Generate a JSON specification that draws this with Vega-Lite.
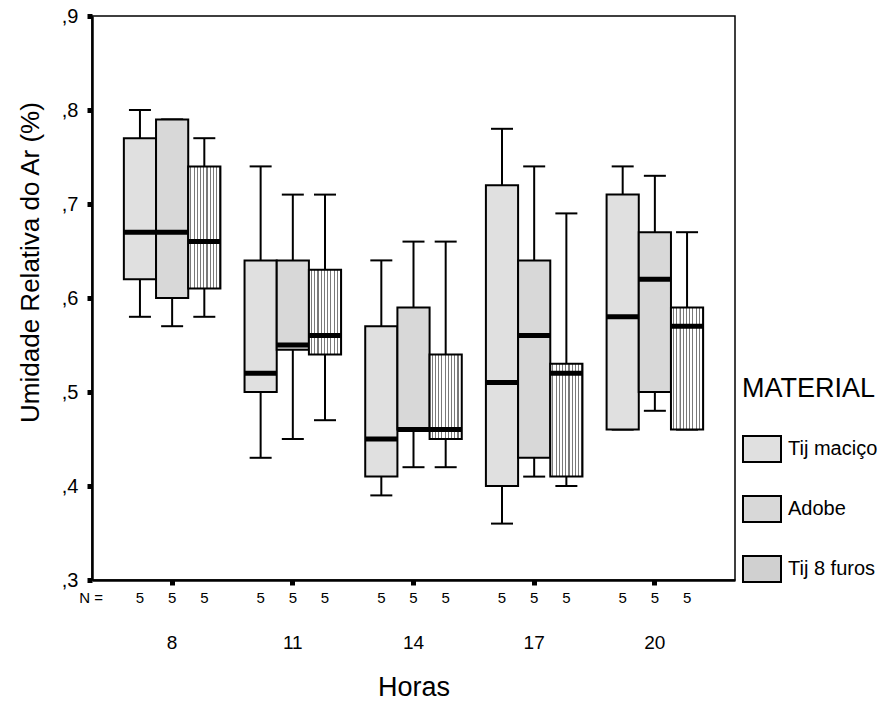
{
  "$schema": "https://vega.github.io/schema/vega-lite/v6.json",
  "width": 643,
  "height": 564,
  "autosize": "none",
  "padding": {"left": 92, "top": 16, "right": 159, "bottom": 136},
  "background": "white",
  "config": {
    "font": "Liberation Sans, Arial, sans-serif",
    "view": {"stroke": "black", "strokeWidth": 1.5},
    "axis": {"grid": false, "domainColor": "black", "domainWidth": 2.5, "tickColor": "black", "labelColor": "black", "titleColor": "black", "titleFontWeight": "normal", "labelFont": "Liberation Sans", "titleFont": "Liberation Sans"},
    "legend": {"labelFont": "Liberation Sans", "titleFont": "Liberation Sans"}
  },
  "data": {
    "values": [
      {"Hora": "8", "MATERIAL": "Tij maciço", "min": 0.58, "q1": 0.62, "med": 0.67, "q3": 0.77, "max": 0.80, "N": 5},
      {"Hora": "8", "MATERIAL": "Adobe", "min": 0.57, "q1": 0.60, "med": 0.67, "q3": 0.79, "max": 0.79, "N": 5},
      {"Hora": "8", "MATERIAL": "Tij 8 furos", "min": 0.58, "q1": 0.61, "med": 0.66, "q3": 0.74, "max": 0.77, "N": 5},
      {"Hora": "11", "MATERIAL": "Tij maciço", "min": 0.43, "q1": 0.50, "med": 0.52, "q3": 0.64, "max": 0.74, "N": 5},
      {"Hora": "11", "MATERIAL": "Adobe", "min": 0.45, "q1": 0.545, "med": 0.55, "q3": 0.64, "max": 0.71, "N": 5},
      {"Hora": "11", "MATERIAL": "Tij 8 furos", "min": 0.47, "q1": 0.54, "med": 0.56, "q3": 0.63, "max": 0.71, "N": 5},
      {"Hora": "14", "MATERIAL": "Tij maciço", "min": 0.39, "q1": 0.41, "med": 0.45, "q3": 0.57, "max": 0.64, "N": 5},
      {"Hora": "14", "MATERIAL": "Adobe", "min": 0.42, "q1": 0.46, "med": 0.46, "q3": 0.59, "max": 0.66, "N": 5},
      {"Hora": "14", "MATERIAL": "Tij 8 furos", "min": 0.42, "q1": 0.45, "med": 0.46, "q3": 0.54, "max": 0.66, "N": 5},
      {"Hora": "17", "MATERIAL": "Tij maciço", "min": 0.36, "q1": 0.40, "med": 0.51, "q3": 0.72, "max": 0.78, "N": 5},
      {"Hora": "17", "MATERIAL": "Adobe", "min": 0.41, "q1": 0.43, "med": 0.56, "q3": 0.64, "max": 0.74, "N": 5},
      {"Hora": "17", "MATERIAL": "Tij 8 furos", "min": 0.40, "q1": 0.41, "med": 0.52, "q3": 0.53, "max": 0.69, "N": 5},
      {"Hora": "20", "MATERIAL": "Tij maciço", "min": 0.46, "q1": 0.46, "med": 0.58, "q3": 0.71, "max": 0.74, "N": 5},
      {"Hora": "20", "MATERIAL": "Adobe", "min": 0.48, "q1": 0.50, "med": 0.62, "q3": 0.67, "max": 0.73, "N": 5},
      {"Hora": "20", "MATERIAL": "Tij 8 furos", "min": 0.46, "q1": 0.46, "med": 0.57, "q3": 0.59, "max": 0.67, "N": 5}
    ]
  },
  "layer": [
    {
      "encoding": {
        "x": {
          "field": "Hora", "type": "nominal", "sort": ["8", "11", "14", "17", "20"],
          "scale": {"paddingInner": 0.2, "paddingOuter": 0.264},
          "axis": {"title": "Horas", "labelAngle": 0, "labelFontSize": 19, "labelPadding": 48, "tickSize": 5, "tickWidth": 5, "titleFontSize": 27, "titlePadding": 22}
        },
        "xOffset": {
          "field": "MATERIAL", "type": "nominal",
          "sort": ["Tij maciço", "Adobe", "Tij 8 furos"],
          "scale": {"paddingInner": 0, "paddingOuter": 0}
        }
      },
      "layer": [
        {
          "mark": {"type": "rule", "color": "black", "strokeWidth": 2, "opacity": 1},
          "encoding": {
            "y": {"field": "min", "type": "quantitative", "title": "Umidade Relativa do Ar (%)"},
            "y2": {"field": "max"}
          }
        },
        {
          "mark": {"type": "tick", "color": "black", "size": 22, "thickness": 2, "opacity": 1},
          "encoding": {"y": {"field": "min", "type": "quantitative", "title": "Umidade Relativa do Ar (%)"}}
        },
        {
          "mark": {"type": "tick", "color": "black", "size": 22, "thickness": 2, "opacity": 1},
          "encoding": {"y": {"field": "max", "type": "quantitative", "title": "Umidade Relativa do Ar (%)"}}
        },
        {
          "mark": {"type": "bar", "stroke": "black", "strokeWidth": 2, "width": {"band": 1}, "opacity": 1},
          "encoding": {
            "y": {
              "field": "q1", "type": "quantitative", "title": "Umidade Relativa do Ar (%)",
              "scale": {"domain": [0.3, 0.9], "nice": false, "zero": false},
              "axis": {"values": [0.3, 0.4, 0.5, 0.6, 0.7, 0.8, 0.9], "labelExpr": "replace(format(datum.value, '.1f'), '0.', ',')", "labelFontSize": 20, "labelPadding": 9, "tickSize": 5, "tickWidth": 5, "titleFontSize": 26, "titlePadding": 18, "titleY": 246}
            },
            "y2": {"field": "q3"},
            "fill": {
              "condition": {"test": "(datum.MATERIAL || datum.value) === 'Tij 8 furos'", "value": {"gradient": "linear", "x1": 0, "y1": 0, "x2": 1, "y2": 0, "stops": [
                    {"offset": 0.0, "color": "#ffffff"}, {"offset": 0.065, "color": "#ffffff"}, {"offset": 0.066, "color": "#7a7a7a"}, {"offset": 0.099, "color": "#7a7a7a"},
                    {"offset": 0.1, "color": "#ffffff"}, {"offset": 0.165, "color": "#ffffff"}, {"offset": 0.166, "color": "#7a7a7a"}, {"offset": 0.199, "color": "#7a7a7a"},
                    {"offset": 0.2, "color": "#ffffff"}, {"offset": 0.265, "color": "#ffffff"}, {"offset": 0.266, "color": "#7a7a7a"}, {"offset": 0.299, "color": "#7a7a7a"},
                    {"offset": 0.3, "color": "#ffffff"}, {"offset": 0.365, "color": "#ffffff"}, {"offset": 0.366, "color": "#7a7a7a"}, {"offset": 0.399, "color": "#7a7a7a"},
                    {"offset": 0.4, "color": "#ffffff"}, {"offset": 0.465, "color": "#ffffff"}, {"offset": 0.466, "color": "#7a7a7a"}, {"offset": 0.499, "color": "#7a7a7a"},
                    {"offset": 0.5, "color": "#ffffff"}, {"offset": 0.565, "color": "#ffffff"}, {"offset": 0.566, "color": "#7a7a7a"}, {"offset": 0.599, "color": "#7a7a7a"},
                    {"offset": 0.6, "color": "#ffffff"}, {"offset": 0.665, "color": "#ffffff"}, {"offset": 0.666, "color": "#7a7a7a"}, {"offset": 0.699, "color": "#7a7a7a"},
                    {"offset": 0.7, "color": "#ffffff"}, {"offset": 0.765, "color": "#ffffff"}, {"offset": 0.766, "color": "#7a7a7a"}, {"offset": 0.799, "color": "#7a7a7a"},
                    {"offset": 0.8, "color": "#ffffff"}, {"offset": 0.865, "color": "#ffffff"}, {"offset": 0.866, "color": "#7a7a7a"}, {"offset": 0.899, "color": "#7a7a7a"},
                    {"offset": 0.9, "color": "#ffffff"}, {"offset": 0.965, "color": "#ffffff"}, {"offset": 0.966, "color": "#7a7a7a"}, {"offset": 0.999, "color": "#7a7a7a"}
                  ]}},
              "field": "MATERIAL", "type": "nominal",
              "sort": ["Tij maciço", "Adobe", "Tij 8 furos"],
              "scale": {
                "domain": ["Tij maciço", "Adobe", "Tij 8 furos"],
                "range": ["#e0e0e0", "#d8d8d8", "#d0d0d0"]
              },
              "legend": {
                "title": "MATERIAL", "orient": "none", "legendX": 650, "legendY": 360,
                "titleFontSize": 27, "titleFontWeight": "normal", "titleColor": "black", "titlePadding": 26,
                "labelFontSize": 20, "labelColor": "black", "labelOffset": 6,
                "symbolType": "M-1,-0.684H1V0.684H-1Z", "symbolSize": 1444,
                "symbolStrokeColor": "black", "symbolStrokeWidth": 2, "rowPadding": 23,
                "encode": {"symbols": {"update": {
                  "stroke": {"value": "black"}, "strokeWidth": {"value": 2},
                  "fill": {
                    "condition": {"test": "datum.value === 'Tij 8 furos'", "value": {"gradient": "linear", "x1": 0, "y1": 0, "x2": 1, "y2": 0, "stops": [
                      {"offset": 0.0, "color": "#ffffff"}, {"offset": 0.065, "color": "#ffffff"}, {"offset": 0.066, "color": "#7a7a7a"}, {"offset": 0.099, "color": "#7a7a7a"},
                      {"offset": 0.1, "color": "#ffffff"}, {"offset": 0.165, "color": "#ffffff"}, {"offset": 0.166, "color": "#7a7a7a"}, {"offset": 0.199, "color": "#7a7a7a"},
                      {"offset": 0.2, "color": "#ffffff"}, {"offset": 0.265, "color": "#ffffff"}, {"offset": 0.266, "color": "#7a7a7a"}, {"offset": 0.299, "color": "#7a7a7a"},
                      {"offset": 0.3, "color": "#ffffff"}, {"offset": 0.365, "color": "#ffffff"}, {"offset": 0.366, "color": "#7a7a7a"}, {"offset": 0.399, "color": "#7a7a7a"},
                      {"offset": 0.4, "color": "#ffffff"}, {"offset": 0.465, "color": "#ffffff"}, {"offset": 0.466, "color": "#7a7a7a"}, {"offset": 0.499, "color": "#7a7a7a"},
                      {"offset": 0.5, "color": "#ffffff"}, {"offset": 0.565, "color": "#ffffff"}, {"offset": 0.566, "color": "#7a7a7a"}, {"offset": 0.599, "color": "#7a7a7a"},
                      {"offset": 0.6, "color": "#ffffff"}, {"offset": 0.665, "color": "#ffffff"}, {"offset": 0.666, "color": "#7a7a7a"}, {"offset": 0.699, "color": "#7a7a7a"},
                      {"offset": 0.7, "color": "#ffffff"}, {"offset": 0.765, "color": "#ffffff"}, {"offset": 0.766, "color": "#7a7a7a"}, {"offset": 0.799, "color": "#7a7a7a"},
                      {"offset": 0.8, "color": "#ffffff"}, {"offset": 0.865, "color": "#ffffff"}, {"offset": 0.866, "color": "#7a7a7a"}, {"offset": 0.899, "color": "#7a7a7a"},
                      {"offset": 0.9, "color": "#ffffff"}, {"offset": 0.965, "color": "#ffffff"}, {"offset": 0.966, "color": "#7a7a7a"}, {"offset": 0.999, "color": "#7a7a7a"}
                    ]}},
                    "value": {"expr": "scale('fill', datum.value)"}
                  }
                }}}
              }
            }
          }
        },
        {
          "mark": {"type": "tick", "color": "black", "size": 32, "thickness": 5, "opacity": 1},
          "encoding": {"y": {"field": "med", "type": "quantitative", "title": "Umidade Relativa do Ar (%)"}}
        },
        {
          "mark": {"type": "text", "fontSize": 15, "dy": 18, "color": "black"},
          "encoding": {
            "y": {"datum": 0.3, "type": "quantitative", "title": "Umidade Relativa do Ar (%)"},
            "text": {"field": "N", "type": "quantitative"}
          }
        }
      ]
    },
    {
      "data": {"values": [{"label": "N =", "pos": 0, "yv": 0.3}]},
      "mark": {"type": "text", "fontSize": 15, "dy": 18, "dx": -1, "color": "black"},
      "encoding": {
        "x": {"field": "pos", "type": "quantitative", "scale": {"domain": [0, 1]}, "axis": null},
        "y": {"field": "yv", "type": "quantitative", "title": "Umidade Relativa do Ar (%)"},
        "text": {"field": "label", "type": "nominal"}
      }
    }
  ],
  "resolve": {"scale": {"x": "independent"}}
}
